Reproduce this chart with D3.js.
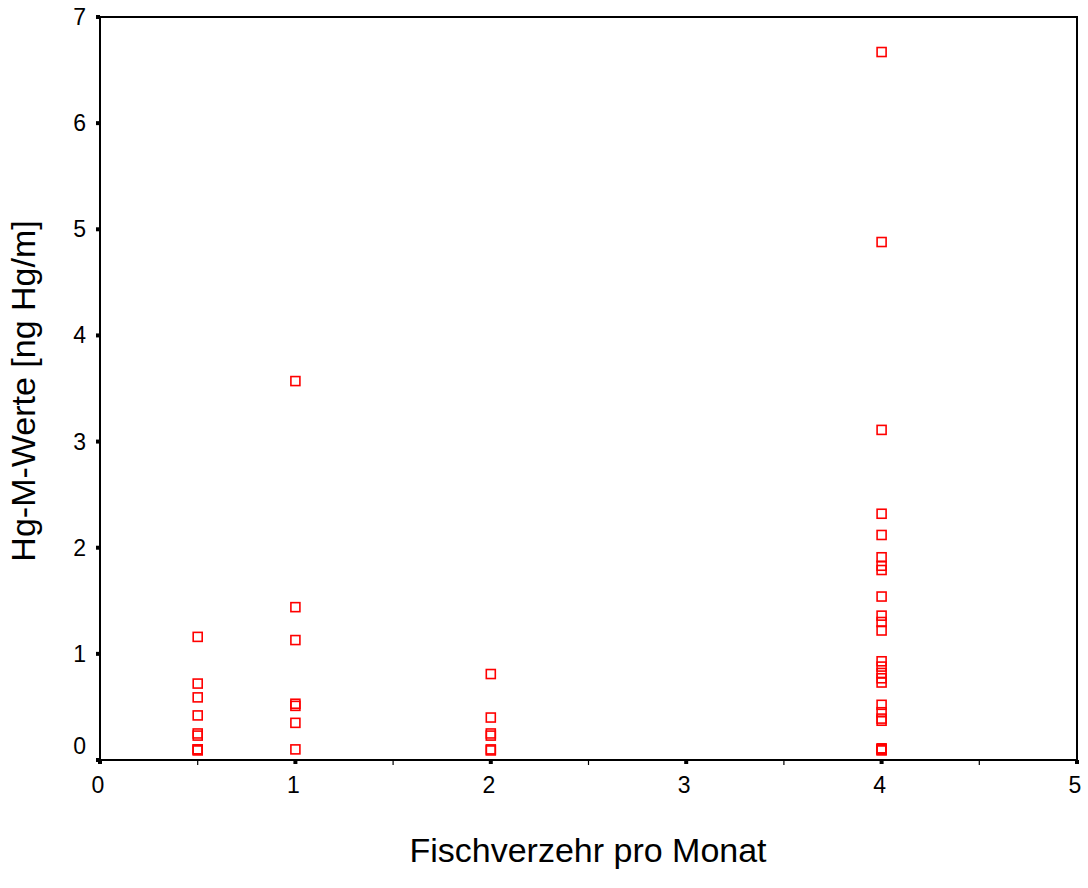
<!doctype html>
<html lang="en">
<head>
<meta charset="utf-8">
<title>Hg-M-Werte</title>
<script src="https://cdn.jsdelivr.net/npm/d3@7"></script>
<style>
  body { margin: 0; background: #fff; }
  text { font-family: "Liberation Sans", Arial, sans-serif; fill: #000; }
</style>
</head>
<body>
<script>

// fish per month (x) and Hg values (y)
var fishX = [
    0.5, 0.5, 0.5, 0.5, 0.5, 0.5, 0.5, 0.5, 0.5,
    1, 1, 1, 1, 1, 1, 1,
    2, 2, 2, 2, 2, 2,
    4, 4, 4, 4, 4, 4, 4, 4, 4, 4, 4, 4, 4, 4, 4, 4, 4, 4, 4, 4, 4, 4, 4, 4, 4
];
var hgY = [
    1.16, 0.72, 0.59, 0.42, 0.25, 0.23, 0.10, 0.10, 0.09,
    3.57, 1.44, 1.13, 0.53, 0.51, 0.35, 0.10,
    0.81, 0.40, 0.25, 0.23, 0.10, 0.09,
    6.67, 4.88, 3.11, 2.32, 2.12, 1.91, 1.83, 1.79, 1.54, 1.36, 1.30, 1.22,
    0.93, 0.88, 0.82, 0.77, 0.73, 0.52, 0.45, 0.39, 0.37, 0.10, 0.10, 0.09, 0.11
];

var xTicks = [0, 1, 2, 3, 4, 5];
var xMinor = [0.5, 1.5, 2.5, 3.5, 4.5];
var yTicks = [0, 1, 2, 3, 4, 5, 6, 7];

var xTitle = "Fischverzehr pro Monat";
var yTitle = "Hg-M-Werte [ng Hg/m]";

var width = 1088, height = 888;
var plotL = 100, plotR = 1077, plotT = 17, plotB = 760;

var x = d3.scaleLinear().domain([0, 5]).range([plotL, plotR]);
var y = d3.scaleLinear().domain([0, 7]).range([plotB, plotT]);

var svg = d3.select("body").append("svg")
    .attr("width", width)
    .attr("height", height);

// frame
svg.append("rect")
    .attr("x", plotL).attr("y", plotT)
    .attr("width", plotR - plotL).attr("height", plotB - plotT)
    .attr("fill", "none").attr("stroke", "#000").attr("stroke-width", 2);

// x ticks: small black blocks for majors, thin lines for minors
svg.selectAll(".xmaj").data(xTicks).enter().append("rect")
    .attr("x", function(d){ return x(d) - 2; })
    .attr("y", plotB)
    .attr("width", 4).attr("height", 4)
    .attr("fill", "#000");

svg.selectAll(".xmin").data(xMinor).enter().append("line")
    .attr("x1", function(d){ return x(d); })
    .attr("x2", function(d){ return x(d); })
    .attr("y1", plotB).attr("y2", plotB + 5)
    .attr("stroke", "#000").attr("stroke-width", 1.2);

svg.selectAll(".xlab").data(xTicks).enter().append("text")
    .attr("x", function(d){ return x(d) - 2; })
    .attr("y", plotB + 33)
    .attr("text-anchor", "middle")
    .attr("font-size", 23)
    .text(function(d){ return d; });

// y ticks
svg.selectAll(".ymaj").data(yTicks).enter().append("rect")
    .attr("x", plotL - 4)
    .attr("y", function(d){ return y(d) - 2; })
    .attr("width", 4).attr("height", 4)
    .attr("fill", "#000");

svg.selectAll(".ylab").data(yTicks).enter().append("text")
    .attr("x", 86)
    .attr("y", function(d){ return y(d) + (d === 0 ? -14 : 0); })
    .attr("dy", "0.35em")
    .attr("text-anchor", "end")
    .attr("font-size", 23)
    .text(function(d){ return d; });

// titles
svg.append("text")
    .attr("x", 588).attr("y", 862)
    .attr("text-anchor", "middle")
    .attr("font-size", 34)
    .text(xTitle);

svg.append("text")
    .attr("transform", "translate(35," + 391 + ") rotate(-90)")
    .attr("text-anchor", "middle")
    .attr("font-size", 34)
    .text(yTitle);

// points as open red squares
var s = 9;
svg.selectAll(".pt").data(d3.range(fishX.length)).enter().append("rect")
    .attr("x", function(i){ return x(fishX[i]) - s / 2; })
    .attr("y", function(i){ return y(hgY[i]) - s / 2; })
    .attr("width", s).attr("height", s)
    .attr("fill", "none")
    .attr("stroke", "#ff0000")
    .attr("stroke-width", 1.6);

</script>
</body>
</html>
